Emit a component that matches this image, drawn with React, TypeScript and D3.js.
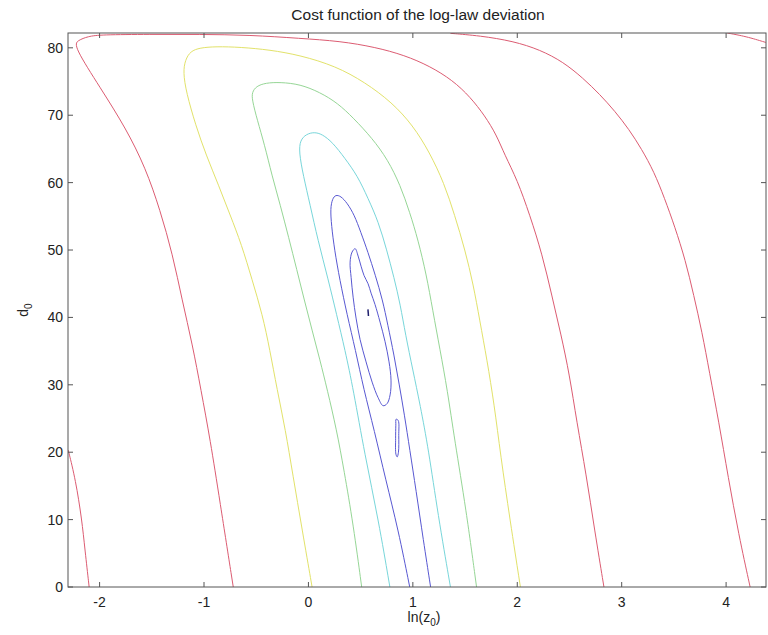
import React from "react";
import * as d3 from "d3";

// ---------- axis data ----------
const X_DOMAIN = [Math.log(0.1), Math.log(80)];
const Y_DOMAIN = [0, 82.2];
const xTicks = [-2, -1, 0, 1, 2, 3, 4];
const yTicks = [0, 10, 20, 30, 40, 50, 60, 70, 80];
const titleText = "Cost function of the log-law deviation";

// ---------- contour lines: [ln(z0), d0] ----------
const redMain = [
  [-0.72, 0], [-0.85, 12.9], [-0.94, 21.8], [-1.03, 29.3], [-1.11, 35.9], [-1.21, 42.6],
  [-1.3, 49.3], [-1.42, 55.9], [-1.56, 62.2], [-1.75, 68.1], [-1.99, 74.0], [-2.25, 80.3],
  [-2.21, 81.1], [-2.11, 81.7], [-1.99, 81.95], [-1.52, 82.0], [-1.04, 82.0], [-0.56, 81.9],
  [-0.08, 81.4], [0.3, 81.0], [0.64, 80.1], [0.92, 78.9], [1.16, 77.3], [1.38, 75.2],
  [1.55, 72.7], [1.69, 69.9], [1.8, 67.1], [1.88, 64.1], [2.0, 60.4], [2.12, 55.2],
  [2.24, 49.3], [2.33, 43.3], [2.42, 37.4], [2.5, 31.5], [2.57, 24.5], [2.66, 16.7],
  [2.74, 8.5], [2.83, 0],
];
const redRight = [
  [1.36, 82.15], [1.64, 81.8], [1.96, 81.0], [2.22, 79.7], [2.44, 77.9], [2.63, 75.5],
  [2.79, 73.1], [2.935, 70.6], [3.07, 67.9], [3.19, 65.0], [3.31, 61.6], [3.41, 57.7],
  [3.51, 53.4], [3.61, 48.5], [3.69, 43.3], [3.77, 37.8], [3.84, 31.9], [3.93, 24.5],
  [4.02, 16.3], [4.12, 7.8], [4.23, 0],
];
const redCornerTopRight = [[4.01, 82.2], [4.19, 81.7], [4.38, 80.8]];
const redCornerBottomLeft = [[-2.3, 20.3], [-2.23, 15.9], [-2.17, 10.0], [-2.14, 5.5], [-2.1, 0]];
const yellowLine = [
  [0.035, 0], [-0.06, 8.5], [-0.15, 16.7], [-0.22, 23.3], [-0.3, 29.3], [-0.37, 35.2],
  [-0.44, 40.4], [-0.54, 45.6], [-0.64, 50.8], [-0.75, 55.2], [-0.86, 59.6], [-0.98, 64.1],
  [-1.08, 68.5], [-1.17, 73.4], [-1.2, 76.4], [-1.18, 78.2], [-1.13, 79.5], [-1.04, 80.0],
  [-0.89, 80.2], [-0.65, 80.1], [-0.37, 79.7], [-0.08, 78.9], [0.26, 77.3], [0.54, 74.9],
  [0.8, 71.9], [1.0, 68.5], [1.16, 64.5], [1.3, 59.9], [1.4, 55.2], [1.5, 50.0],
  [1.58, 44.8], [1.64, 39.6], [1.71, 33.7], [1.78, 27.0], [1.84, 19.6], [1.93, 10.0],
  [2.03, 0],
];
const greenLine = [
  [0.51, 0], [0.43, 9.2], [0.34, 17.4], [0.27, 23.3], [0.18, 29.3], [0.11, 33.7],
  [0.035, 38.1], [-0.04, 42.6], [-0.11, 47.0], [-0.19, 51.9], [-0.27, 56.7], [-0.35, 61.1],
  [-0.42, 65.6], [-0.49, 69.3], [-0.54, 72.3], [-0.54, 73.4], [-0.5, 74.3], [-0.41, 74.8],
  [-0.27, 74.9], [-0.08, 74.6], [0.11, 73.4], [0.28, 71.8], [0.43, 69.6], [0.61, 66.6],
  [0.76, 63.4], [0.88, 59.6], [0.97, 55.6], [1.05, 51.5], [1.13, 46.3], [1.19, 41.1],
  [1.26, 35.2], [1.33, 29.3], [1.4, 21.8], [1.51, 11.5], [1.61, 0],
];
const cyanLine = [
  [0.78, 0], [0.67, 10.0], [0.54, 19.6], [0.43, 29.3], [0.35, 35.2], [0.27, 40.4],
  [0.19, 45.6], [0.09, 51.5], [0.016, 56.7], [-0.05, 61.1], [-0.09, 64.5], [-0.08, 66.3],
  [-0.02, 67.2], [0.055, 67.5], [0.13, 67.2], [0.23, 66.0], [0.35, 63.6], [0.47, 61.0],
  [0.57, 57.7], [0.67, 54.2], [0.75, 50.0], [0.82, 45.9], [0.88, 41.9], [0.93, 37.4],
  [1.0, 32.2], [1.07, 27.0], [1.15, 20.4], [1.24, 10.8], [1.36, 0],
];
const blueOuter = [
  [0.97, 0], [0.86, 8.5], [0.74, 15.9], [0.63, 23.3], [0.53, 29.3], [0.45, 35.2],
  [0.37, 40.4], [0.3, 45.6], [0.25, 50.0], [0.22, 53.7], [0.21, 56.2], [0.23, 57.6],
  [0.26, 58.2], [0.31, 58.0], [0.37, 57.0], [0.44, 55.2], [0.5, 52.7], [0.57, 49.7],
  [0.64, 46.3], [0.71, 42.6], [0.76, 38.9], [0.82, 34.4], [0.87, 30.0], [0.92, 25.5],
  [0.97, 20.4], [1.03, 14.4], [1.1, 7.0], [1.17, 0],
];
const blueInner = [
  [0.447, 50.2], [0.476, 49.1], [0.504, 47.6], [0.533, 46.2], [0.571, 45.0], [0.6, 43.6],
  [0.638, 41.9], [0.686, 39.3], [0.734, 36.4], [0.772, 33.4], [0.791, 30.7], [0.782, 28.5],
  [0.753, 27.2], [0.715, 26.9], [0.667, 28.1], [0.61, 30.4], [0.552, 33.4], [0.495, 36.7],
  [0.456, 39.9], [0.428, 43.0], [0.409, 45.9], [0.399, 48.2], [0.418, 49.7],
];
const blueSmall = [
  [0.84, 24.9], [0.86, 24.7], [0.865, 22.5], [0.862, 20.0], [0.85, 19.3], [0.838, 19.7],
  [0.835, 22.0], [0.837, 24.0],
];
const darkDot = [[0.57, 41.2], [0.575, 40.2]];

const RED = "#dc5c72";
const YELLOW = "#e2e26a";
const GREEN = "#96d696";
const CYAN = "#78d6da";
const BLUE = "#5858d2";
const NAVY = "#20206e";

const contours = [
  { pts: redMain, color: RED, kind: "open" },
  { pts: redRight, color: RED, kind: "open" },
  { pts: redCornerTopRight, color: RED, kind: "open" },
  { pts: redCornerBottomLeft, color: RED, kind: "open" },
  { pts: yellowLine, color: YELLOW, kind: "open" },
  { pts: greenLine, color: GREEN, kind: "open" },
  { pts: cyanLine, color: CYAN, kind: "open" },
  { pts: blueOuter, color: BLUE, kind: "open" },
  { pts: blueInner, color: BLUE, kind: "closed" },
  { pts: blueSmall, color: BLUE, kind: "closed" },
  { pts: darkDot, color: NAVY, kind: "open" },
];

export default function App() {
  const W = 768;
  const H = 635;
  const left = 68, right = 766, top = 33, bottom = 587;
  const x = d3.scaleLinear().domain(X_DOMAIN).range([left, right]);
  const y = d3.scaleLinear().domain(Y_DOMAIN).range([bottom, top]);
  const openLine = d3
    .line<number[]>()
    .x((d) => x(d[0]))
    .y((d) => y(d[1]))
    .curve(d3.curveBasis);
  const closedLine = d3
    .line<number[]>()
    .x((d) => x(d[0]))
    .y((d) => y(d[1]))
    .curve(d3.curveCatmullRomClosed.alpha(0.5));

  const axisColor = "#555";
  const textColor = "#222";
  const font = "'Liberation Sans', Arial, Helvetica, sans-serif";
  const tl = 5;

  return (
    <svg
      width={W}
      height={H}
      style={{ position: "absolute", left: 0, top: 0, display: "block", background: "#fff" }}
      fontFamily={font}
    >
      <defs>
        <clipPath id="plotClip">
          <rect x={left} y={top} width={right - left} height={bottom - top} />
        </clipPath>
      </defs>
      <rect x={0} y={0} width={W} height={H} fill="#fff" />
      <g clipPath="url(#plotClip)">
        {contours.map((c, i) => (
          <path
            key={i}
            d={(c.kind === "closed" ? closedLine : openLine)(c.pts) || ""}
            fill="none"
            stroke={c.color}
            strokeWidth={c.color === NAVY ? 1.5 : 1}
          />
        ))}
      </g>
      {/* axes box */}
      <rect x={left} y={top} width={right - left} height={bottom - top} fill="none" stroke={axisColor} strokeWidth={1} />
      {xTicks.map((t) => (
        <g key={"xt" + t}>
          <line x1={x(t)} x2={x(t)} y1={bottom} y2={bottom - tl} stroke={axisColor} />
          <line x1={x(t)} x2={x(t)} y1={top} y2={top + tl} stroke={axisColor} />
          <text x={x(t)} y={607} textAnchor="middle" fontSize={14} fill={textColor}>
            {t}
          </text>
        </g>
      ))}
      {yTicks.map((t) => (
        <g key={"yt" + t}>
          <line x1={left} x2={left + tl} y1={y(t)} y2={y(t)} stroke={axisColor} />
          <line x1={right} x2={right - tl} y1={y(t)} y2={y(t)} stroke={axisColor} />
          <text x={63} y={y(t)} dy="0.35em" textAnchor="end" fontSize={14} fill={textColor}>
            {t}
          </text>
        </g>
      ))}
      <text x={418} y={20} textAnchor="middle" fontSize={15.5} fill={textColor}>
        {titleText}
      </text>
      <text x={424} y={622} textAnchor="middle" fontSize={14} fill={textColor}>
        ln(z
        <tspan fontSize={10} dy={4}>0</tspan>
        <tspan dy={-4}>)</tspan>
      </text>
      <text
        transform={`translate(28, ${(top + bottom) / 2}) rotate(-90)`}
        textAnchor="middle"
        fontSize={14}
        fill={textColor}
      >
        d<tspan fontSize={10} dy={4}>0</tspan>
      </text>
    </svg>
  );
}
